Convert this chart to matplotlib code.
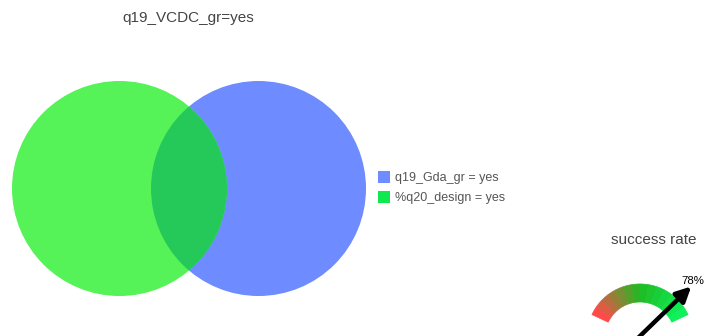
import numpy as np
import matplotlib
matplotlib.use("Agg")
import matplotlib.pyplot as plt
from matplotlib.patches import Circle, Polygon, Rectangle, FancyArrowPatch
from matplotlib.colors import LinearSegmentedColormap

plt.rcParams['font.family'] = ['Liberation Sans', 'DejaVu Sans']

# ---- data ----
venn_title = "q19_VCDC_gr=yes"
set_labels = ["q19_Gda_gr = yes", "%q20_design = yes"]
circle_colors = ["#6e8bff", "#55f258"]
legend_colors = ["#6e8bff", "#10e84f"]
overlap_color = "#25c95a"
gauge_title = "success rate"
success_rate = 78  # percent
gauge_stops = ["#ff4a4a", "#1fba22", "#0ff05a"]

W, H = 705, 336
fig = plt.figure(figsize=(W / 100, H / 100), dpi=100)
ax = fig.add_axes([0, 0, 1, 1])
ax.set_xlim(0, W)
ax.set_ylim(H, 0)
ax.set_aspect('equal')
ax.axis('off')

# ---- venn ----
r = 107.5
cy = 188.5
c_blue = Circle((258.5, cy), r, facecolor=circle_colors[0], edgecolor='none', zorder=1)
c_green = Circle((119.5, cy), r, facecolor=circle_colors[1], edgecolor='none', zorder=2)
ax.add_patch(c_blue)
ax.add_patch(c_green)
c_int = Circle((119.5, cy), r, facecolor=overlap_color, edgecolor='none', zorder=3)
ax.add_patch(c_int)
c_int.set_clip_path(Circle((258.5, cy), r, transform=ax.transData))

ax.text(188, 18, venn_title, ha='center', va='center', fontsize=11, color='#444444')

# legend
for i, (lab, col) in enumerate(zip(set_labels, legend_colors)):
    y0 = 171 + i * 20
    ax.add_patch(Rectangle((378, y0), 12, 12, facecolor=col, edgecolor='none'))
    ax.text(395, y0 + 6.5, lab, ha='left', va='center', fontsize=9, color='#555555')

# ---- gauge ----
gcx, gcy = 640, 337
R_out, R_in = 53, 35
a_start, a_end = 155, 25
cmap = LinearSegmentedColormap.from_list("g", gauge_stops)
nseg = 14
edges = np.linspace(a_start, a_end, nseg + 1)
for k in range(nseg):
    th = np.radians(np.linspace(edges[k], edges[k + 1], 12))
    xo = gcx + R_out * np.cos(th)
    yo = gcy - R_out * np.sin(th)
    xi = gcx + R_in * np.cos(th[::-1])
    yi = gcy - R_in * np.sin(th[::-1])
    pts = np.column_stack([np.concatenate([xo, xi]), np.concatenate([yo, yi])])
    col = cmap(k / (nseg - 1))
    ax.add_patch(Polygon(pts, closed=True, facecolor=col, edgecolor=col, lw=0.5))

ax.text(654, 240, gauge_title, ha='center', va='center', fontsize=11, color='#444444')

ang = np.radians(180 - success_rate / 100 * 180 + 5)
L = 72
tip = (gcx + L * np.cos(ang), gcy - L * np.sin(ang))
arr = FancyArrowPatch((gcx - 2, gcy + 1), tip, arrowstyle='-|>', mutation_scale=22,
                      color='black', lw=3.2, shrinkA=0, shrinkB=0, zorder=5)
ax.add_patch(arr)
ax.text(681, 281, f"{success_rate}%", ha='left', va='center', fontsize=8.2, color='black', zorder=6)

fig.savefig("out.png", dpi=100)
